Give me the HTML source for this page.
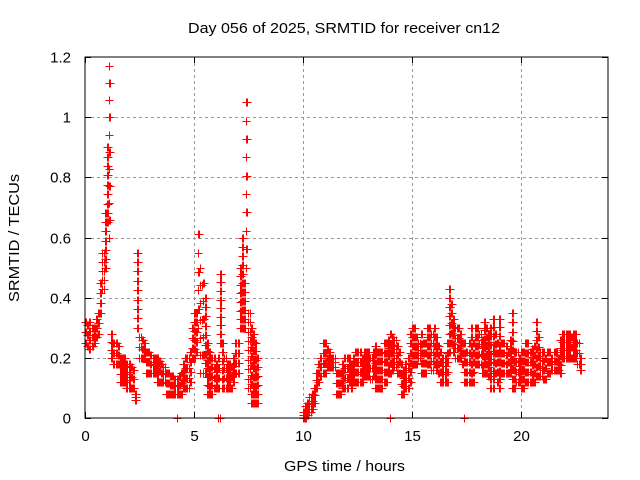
<!DOCTYPE html>
<html><head><meta charset="utf-8"><style>
body{margin:0;background:#fff}
svg{display:block;font-family:"Liberation Sans",sans-serif}
</style></head><body>
<svg id="c" width="640" height="480">
<text x="188" y="33" font-size="15" textLength="312" lengthAdjust="spacingAndGlyphs">Day 056 of 2025, SRMTID for receiver cn12</text>
<text x="284" y="471" font-size="15" textLength="121" lengthAdjust="spacingAndGlyphs">GPS time / hours</text>
<text transform="translate(19,238) rotate(-90)" font-size="15" text-anchor="middle" textLength="128" lengthAdjust="spacingAndGlyphs">SRMTID / TECUs</text>
<g id="grid"></g><g id="marks"></g>
<rect x="85" y="57" width="523" height="361" fill="none" stroke="#000" stroke-width="1"/>
</svg>
<script>
const xTicks=[0,5,10,15,20];
const yTicks=[0,0.2,0.4,0.6,0.8,1,1.2];
const yTickLabels=["0","0.2","0.4","0.6","0.8","1","1.2"];
const seg1Start=0.0;
const seg1Lo=[.25,.24,.23,.24,.25,.27,.28,.35,.43,.5,.65,.6,.2,.18,.18,.18,.12,.12,.12,.1,.1,.1,.1,.06,.3,.2,.2,.2,.15,.15,.15,.15,.15,.12,.12,.12,.12,.08,.08,.08,.08,.08,.08,.08,.08,.1,.1,.1,.12,.2,.2,.22,.3,.15,.15,.15,.08,.08,.08,.1,.1,.1,.25,.1,.1,.1,.1,.1,.12,.15,.15,.3,.3,.3,.5,.1,.05,.05,.05,.05];
const seg1Hi=[.32,.31,.32,.3,.3,.33,.35,.45,.55,.68,.9,1.17,.28,.25,.25,.24,.2,.2,.2,.18,.18,.17,.16,.08,.55,.27,.26,.25,.22,.22,.21,.2,.2,.2,.19,.18,.17,.15,.15,.14,.14,.13,.13,.14,.15,.18,.2,.2,.22,.3,.35,.35,.61,.5,.45,.4,.25,.22,.2,.2,.18,.2,.48,.25,.2,.18,.18,.17,.2,.25,.25,.5,.6,.45,1.05,.35,.3,.28,.25,.2];
const seg2Start=10.0;
const seg2Lo=[0,0,.01,.02,.03,.05,.1,.12,.14,.15,.15,.17,.17,.17,.17,.08,.08,.08,.1,.1,.1,.12,.1,.12,.12,.12,.12,.12,.14,.14,.14,.13,.14,.1,.1,.1,.1,.12,.12,.15,.15,.16,.17,.15,.15,.08,.08,.1,.1,.12,.18,.18,.18,.2,.15,.15,.15,.18,.18,.16,.18,.16,.15,.12,.12,.12,.12,.22,.25,.22,.2,.2,.2,.18,.12,.12,.12,.12,.12,.18,.18,.18,.15,.15,.15,.14,.1,.1,.15,.12,.1,.15,.15,.15,.15,.15,.1,.1,.12,.12,.1,.1,.12,.12,.12,.12,.12,.14,.14,.14,.13,.13,.15,.15,.16,.16,.16,.16,.15,.2,.2,.2,.2,.2,.2,.2,.18,.16];
const seg2Hi=[.02,.04,.05,.07,.08,.1,.15,.18,.2,.25,.25,.23,.22,.2,.2,.15,.15,.15,.18,.2,.2,.2,.18,.2,.22,.22,.22,.2,.22,.22,.22,.2,.22,.24,.22,.22,.22,.25,.25,.26,.28,.27,.26,.24,.22,.18,.16,.18,.2,.28,.3,.3,.27,.25,.28,.25,.25,.3,.3,.28,.3,.27,.24,.22,.2,.2,.25,.43,.38,.33,.3,.3,.28,.25,.25,.22,.25,.3,.25,.3,.3,.28,.26,.32,.3,.28,.3,.33,.28,.25,.33,.25,.25,.24,.22,.26,.35,.22,.22,.2,.22,.22,.25,.25,.22,.23,.24,.32,.27,.22,.22,.2,.22,.22,.2,.22,.22,.2,.26,.28,.28,.28,.28,.27,.28,.28,.25,.2];
const zeroTimes=[4.2,6.1,6.2,10.1,14.0,17.4];
const step=0.1;
const X0=85,X1=608,Y0=418,Y1=57,XMAX=24,YMAX=1.2;
function xs(t){return X0+t/XMAX*(X1-X0);}
function ys(v){return Y0-v/YMAX*(Y0-Y1);}
const NS="http://www.w3.org/2000/svg";
const grid=document.getElementById('grid'),marks=document.getElementById('marks');
xTicks.forEach(t=>{
  const x=Math.round(xs(t))+0.5;
  if(t>0){const l=document.createElementNS(NS,'line');
  l.setAttribute('x1',x);l.setAttribute('x2',x);l.setAttribute('y1',Y1);l.setAttribute('y2',Y0);
  l.setAttribute('stroke','#999');l.setAttribute('stroke-dasharray','3,3');
  
  
  grid.appendChild(l);}
  const tk=document.createElementNS(NS,'path');
  tk.setAttribute('d',`M${x},${Y0}v-6M${x},${Y1}v6`);tk.setAttribute('stroke','#000');
  
  
  grid.appendChild(tk);
  const tx=document.createElementNS(NS,'text');
  tx.setAttribute('x',x);tx.setAttribute('y',Y0+23);tx.setAttribute('font-size','15');tx.setAttribute('text-anchor','middle');
  tx.textContent=String(t);
  
  
  grid.appendChild(tx);
});
yTicks.forEach((v,i)=>{
  const y=Math.round(ys(v))+0.5;
  if(v>0&&v<YMAX){const l=document.createElementNS(NS,'line');
  l.setAttribute('x1',X0);l.setAttribute('x2',X1);l.setAttribute('y1',y);l.setAttribute('y2',y);
  l.setAttribute('stroke','#999');l.setAttribute('stroke-dasharray','3,3');
  
  
  grid.appendChild(l);}
  const tk=document.createElementNS(NS,'path');
  tk.setAttribute('d',`M${X0},${y}h6M${X1},${y}h-6`);tk.setAttribute('stroke','#000');
  
  
  grid.appendChild(tk);
  const tx=document.createElementNS(NS,'text');
  tx.setAttribute('x',X0-14);tx.setAttribute('y',y+5);tx.setAttribute('font-size','15');tx.setAttribute('text-anchor','end');
  tx.textContent=yTickLabels[i];
  
  
  grid.appendChild(tx);
});
let d='';
function plus(t,v){const x=Math.round(xs(t))+0.5,y=Math.round(ys(v))+0.5;d+=`M${x-4},${y}h8M${x},${y-4}v8`;}
function drawSeg(start,lo,hi){
  lo.forEach((l,i)=>{
    const h=hi[i],t=start+i*step;
    const span=h-l;
    const gap=span>0.3?0.06:0.03;
    [0,0.5].forEach((o,j)=>{
      const tt=t+o*step;
      const n=Math.max(2,Math.round(span/gap));
      for(let k=0;k<=n;k++){
        if(span>0.3&&j===1&&k%2===0)continue;
        plus(tt,l+span*k/n);
      }
    });
  });
}
drawSeg(seg1Start,seg1Lo,seg1Hi);
drawSeg(seg2Start,seg2Lo,seg2Hi);
zeroTimes.forEach(t=>plus(t,0));
const p=document.createElementNS(NS,'path');
p.setAttribute('d',d);p.setAttribute('stroke','#f00');p.setAttribute('stroke-width','1');p.setAttribute('fill','none');p.setAttribute('shape-rendering','crispEdges');


marks.appendChild(p);
</script>
</body></html>
